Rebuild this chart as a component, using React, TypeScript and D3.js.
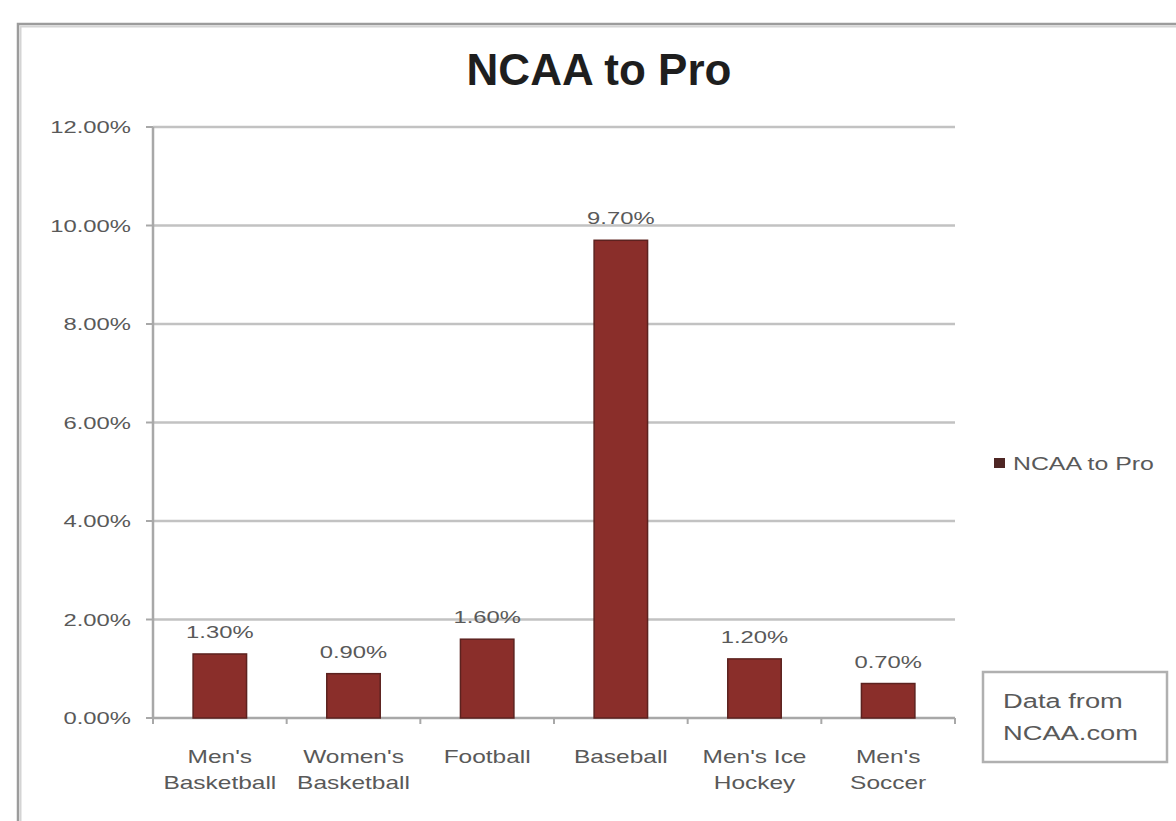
import React from "react";
import * as d3 from "d3";

const categories: string[][] = [
  ["Men's", "Basketball"],
  ["Women's", "Basketball"],
  ["Football"],
  ["Baseball"],
  ["Men's Ice", "Hockey"],
  ["Men's", "Soccer"],
];
const values: number[] = [0.013, 0.009, 0.016, 0.097, 0.012, 0.007];
const yTicks: number[] = [0, 0.02, 0.04, 0.06, 0.08, 0.1, 0.12];
const title = "NCAA to Pro";
const seriesName = "NCAA to Pro";
const noteLines = ["Data from", "NCAA.com"];

const W = 1176;
const H = 821;
const plot = { left: 153, right: 955, top: 127, bottom: 718 };
const FONT = "'Liberation Sans', Arial, sans-serif";
const TEXT = "#595959";
const SX = 1.4;

function SText(props: {
  x: number;
  y: number;
  anchor: "start" | "middle" | "end";
  size: number;
  sx?: number;
  fill?: string;
  children: React.ReactNode;
}) {
  const { x, y, anchor, size, sx = SX, fill = TEXT, children } = props;
  return (
    <text
      transform={`translate(${x},${y}) scale(${sx},1)`}
      textAnchor={anchor}
      fontFamily={FONT}
      fontSize={size}
      fill={fill}
    >
      {children}
    </text>
  );
}

export default function App() {
  const keys = categories.map((c) => c.join(" "));
  const x = d3.scaleBand<string>().domain(keys).range([plot.left, plot.right]).paddingInner(0.6).paddingOuter(0.3);
  const y = d3.scaleLinear().domain([0, 0.12]).range([plot.bottom, plot.top]);
  const fmt = d3.format(".2%");
  const step = (plot.right - plot.left) / keys.length;
  const tickXs = d3.range(keys.length + 1).map((i) => plot.left + i * step);

  return (
    <svg width={W} height={H} style={{ position: "absolute", left: 0, top: 0, background: "#fff" }}>
      <rect x={0} y={0} width={W} height={H} fill="#fff" />
      {/* outer chart border */}
      <rect x={18} y={24} width={W + 20} height={H + 20} fill="none" stroke="#9c9c9c" strokeWidth={2.5} />
      <rect x={20.5} y={26.5} width={W + 20} height={H + 20} fill="none" stroke="#d4d4d4" strokeWidth={2} />
      <text x={599} y={85} textAnchor="middle" fontFamily={FONT} fontWeight="bold" fontSize={44} fill="#1e1e1e">
        {title}
      </text>
      {/* gridlines and y labels */}
      {yTicks.map((t) => (
        <g key={t}>
          {t > 0 && (
            <line x1={plot.left} x2={plot.right} y1={y(t)} y2={y(t)} stroke="#c2c2c2" strokeWidth={2.5} />
          )}
          <line x1={plot.left - 7} x2={plot.left} y1={y(t)} y2={y(t)} stroke="#a8a8a8" strokeWidth={2} />
          <SText x={131} y={y(t) + 6} anchor="end" size={17}>
            {fmt(t)}
          </SText>
        </g>
      ))}
      {/* axes */}
      <line x1={plot.left} x2={plot.left} y1={plot.top} y2={plot.bottom} stroke="#a8a8a8" strokeWidth={2.5} />
      <line x1={plot.left} x2={plot.right} y1={plot.bottom} y2={plot.bottom} stroke="#a8a8a8" strokeWidth={2.5} />
      {tickXs.map((tx, i) => (
        <line key={i} x1={tx} x2={tx} y1={plot.bottom} y2={plot.bottom + 6} stroke="#a8a8a8" strokeWidth={2} />
      ))}
      {/* bars */}
      {values.map((v, i) => {
        const bx = x(keys[i])!;
        const bw = x.bandwidth();
        return (
          <g key={keys[i]}>
            <rect x={bx} y={y(v)} width={bw} height={plot.bottom - y(v)} fill="#8a2e2a" stroke="#5c221f" strokeWidth={1.5} />
            <SText x={bx + bw / 2} y={y(v) - 16} anchor="middle" size={17}>
              {fmt(v)}
            </SText>
          </g>
        );
      })}
      {/* x labels */}
      {categories.map((lines, i) => {
        const cx = x(keys[i])! + x.bandwidth() / 2;
        return (
          <g key={keys[i]}>
            {lines.map((l, j) => (
              <SText key={j} x={cx} y={763 + j * 26} anchor="middle" size={18} sx={1.36}>
                {l}
              </SText>
            ))}
          </g>
        );
      })}
      {/* legend */}
      <rect x={994} y={458} width={11} height={10} fill="#4e2624" />
      <SText x={1013} y={470} anchor="start" size={18} sx={1.38}>
        {seriesName}
      </SText>
      {/* note box */}
      <rect x={983} y={672} width={184} height={90} fill="#fff" stroke="#b0b0b0" strokeWidth={2.5} />
      {noteLines.map((l, j) => (
        <SText key={j} x={1003} y={708 + j * 32} anchor="start" size={21} sx={1.3}>
          {l}
        </SText>
      ))}
    </svg>
  );
}
